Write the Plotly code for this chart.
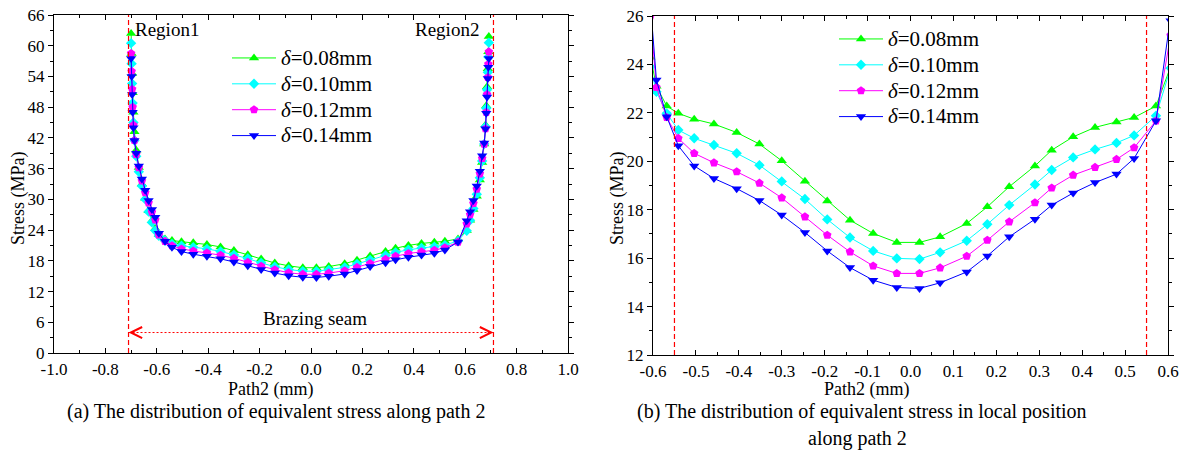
import plotly.graph_objects as go

# Node positions along path 2 (mm)
path_x = [-0.700, -0.698, -0.696, -0.694, -0.691, -0.687, -0.680, -0.670, -0.658, -0.645, -0.632, -0.619, -0.606,
          -0.592, -0.568, -0.541, -0.504, -0.458, -0.405, -0.352, -0.300, -0.246, -0.194, -0.141, -0.087, -0.032,
          0.021, 0.069, 0.131, 0.179, 0.230, 0.290, 0.329, 0.379, 0.430, 0.480, 0.521, 0.572,
          0.606, 0.619, 0.632, 0.645, 0.657, 0.666, 0.674, 0.679, 0.682, 0.685, 0.688, 0.690, 0.692]

# Equivalent stress (MPa) for each seam thickness
stress_008 = [62.4, 58.5, 54.6, 50.8, 47.0, 43.2, 39.6, 36.2, 33.0, 30.2, 27.8, 25.8, 24.3,
              23.1, 22.28, 21.98, 21.74, 21.54, 21.19, 20.71, 20.02, 19.18, 18.36, 17.57, 17.02, 16.65,
              16.65, 16.88, 17.43, 18.12, 18.95, 19.81, 20.46, 21.01, 21.40, 21.62, 21.81, 22.28,
              23.9, 25.9, 28.0, 30.6, 33.8, 37.2, 40.8, 44.5, 48.3, 52.0, 55.5, 58.8, 61.8]
stress_010 = [60.5, 56.5, 52.6, 48.8, 45.0, 41.5, 38.4, 35.4, 32.6, 30.0, 27.6, 25.5, 23.9,
              22.87, 21.98, 21.29, 20.95, 20.67, 20.33, 19.84, 19.17, 18.44, 17.60, 16.85, 16.30, 15.99,
              15.96, 16.24, 16.72, 17.40, 18.19, 19.04, 19.64, 20.16, 20.49, 20.76, 21.07, 21.88,
              23.85, 25.9, 28.2, 31.0, 34.2, 37.5, 40.8, 44.2, 47.8, 51.4, 54.8, 57.8, 60.6]
stress_012 = [58.5, 55.0, 51.5, 48.0, 44.5, 41.5, 38.8, 36.2, 33.6, 31.3, 29.3, 27.5, 26.0,
              23.05, 21.81, 20.95, 20.33, 19.94, 19.57, 19.10, 18.49, 17.71, 16.95, 16.26, 15.68, 15.37,
              15.37, 15.60, 16.08, 16.74, 17.50, 18.29, 18.90, 19.43, 19.75, 20.08, 20.56, 21.67,
              25.2, 27.0, 29.2, 32.0, 35.0, 38.0, 40.8, 43.8, 47.0, 50.5, 53.8, 56.4, 58.8]
stress_014 = [57.5, 54.0, 50.5, 47.0, 44.0, 41.5, 39.0, 36.5, 34.0, 31.8, 29.8, 28.0, 26.5,
              23.36, 21.84, 20.64, 19.81, 19.29, 18.87, 18.38, 17.78, 17.06, 16.30, 15.61, 15.09, 14.79,
              14.75, 14.98, 15.43, 16.09, 16.88, 17.61, 18.19, 18.69, 19.12, 19.47, 20.12, 21.67,
              25.8, 27.6, 29.8, 32.6, 35.5, 38.5, 41.0, 43.8, 46.8, 50.0, 53.6, 55.8, 57.5]

series_names = ["<i>δ</i>=0.08mm", "<i>δ</i>=0.10mm", "<i>δ</i>=0.12mm", "<i>δ</i>=0.14mm"]

# Seam boundaries (mm)
seam_edges_full = [-0.71, 0.71]
seam_edges_local = [-0.55, 0.55]

# Tick labels
xa_vals = [-1.0, -0.8, -0.6, -0.4, -0.2, 0.0, 0.2, 0.4, 0.6, 0.8, 1.0]
xa_text = ["-1.0", "-0.8", "-0.6", "-0.4", "-0.2", "0.0", "0.2", "0.4", "0.6", "0.8", "1.0"]
ya_vals = [0, 6, 12, 18, 24, 30, 36, 42, 48, 54, 60, 66]
ya_text = [str(v) for v in ya_vals]
xb_vals = [-0.6, -0.5, -0.4, -0.3, -0.2, -0.1, 0.0, 0.1, 0.2, 0.3, 0.4, 0.5, 0.6]
xb_text = ["-0.6", "-0.5", "-0.4", "-0.3", "-0.2", "-0.1", "0.0", "0.1", "0.2", "0.3", "0.4", "0.5", "0.6"]
yb_vals = [12, 14, 16, 18, 20, 22, 24, 26]
yb_text = [str(v) for v in yb_vals]

W, H = 1184, 462
FONT = "Liberation Serif"
colors = ["#00FF00", "#00FFFF", "#FF00FF", "#0000FF"]
symbols = ["triangle-up", "diamond", "pentagon", "triangle-down"]
msizes = [9, 8, 9, 9]
stresses = [stress_008, stress_010, stress_012, stress_014]


def px_x(p):
    return p / W


def px_y(p):
    return 1 - p / H


fig = go.Figure()

for i in range(4):
    legend_label = '<span style="font-size:21px">' + series_names[i] + "</span>"
    for xa, ya, leg in (("x", "y", "legend"), ("x2", "y2", "legend2")):
        fig.add_trace(go.Scatter(
            x=path_x, y=stresses[i], xaxis=xa, yaxis=ya,
            mode="lines+markers", name=legend_label,
            line=dict(color=colors[i], width=1),
            marker=dict(symbol=symbols[i], size=msizes[i], color=colors[i], line=dict(width=0)),
            legend=leg, legendgroup=leg, showlegend=True,
        ))

axis_common = dict(showline=True, linecolor="black", linewidth=1.3, mirror="ticks",
                   showgrid=False, zeroline=False, tickcolor="black", tickwidth=1.2,
                   tickfont=dict(family=FONT, size=17, color="black"), ticklen=5,
                   tickmode="array", automargin=False)

legend_common = dict(xanchor="left", yanchor="top", font=dict(family=FONT, size=17.6, color="black"),
                     bgcolor="rgba(0,0,0,0)", itemwidth=44)

fig.update_layout(
    width=W, height=H, margin=dict(l=0, r=0, t=0, b=0, autoexpand=False),
    paper_bgcolor="white", plot_bgcolor="white",
    xaxis=dict(axis_common, domain=[px_x(54), px_x(568)], range=[-1, 1], anchor="y",
               tickvals=xa_vals, ticktext=xa_text, ticks="inside",
               minor=dict(dtick=0.1, ticks="inside", ticklen=3, tickcolor="black")),
    yaxis=dict(axis_common, domain=[px_y(353), px_y(15)], range=[0, 66], anchor="x",
               tickvals=ya_vals, ticktext=ya_text, ticks="outside",
               minor=dict(dtick=3, ticks="outside", ticklen=3, tickcolor="black")),
    xaxis2=dict(axis_common, domain=[px_x(653), px_x(1168)], range=[-0.6, 0.6], anchor="y2",
                tickvals=xb_vals, ticktext=xb_text, ticks="inside",
                minor=dict(dtick=0.05, ticks="inside", ticklen=3, tickcolor="black")),
    yaxis2=dict(axis_common, domain=[px_y(355), px_y(16)], range=[12, 26], anchor="x2",
                tickvals=yb_vals, ticktext=yb_text, ticks="outside",
                minor=dict(dtick=1, ticks="outside", ticklen=3, tickcolor="black")),
    legend=dict(legend_common, x=px_x(227), y=px_y(40)),
    legend2=dict(legend_common, x=px_x(834), y=px_y(21)),
)

shapes = []
for xv in seam_edges_full:
    shapes.append(dict(type="line", xref="x", yref="y domain", x0=xv, x1=xv, y0=0, y1=1,
                       line=dict(color="#FF0000", width=1.2, dash="5px,3px")))
for xv in seam_edges_local:
    shapes.append(dict(type="line", xref="x2", yref="y2 domain", x0=xv, x1=xv, y0=0, y1=1,
                       line=dict(color="#FF0000", width=1.2, dash="5px,3px")))
# dotted span of the brazing seam
shapes.append(dict(type="line", xref="x", yref="y", x0=seam_edges_full[0], x1=seam_edges_full[1],
                   y0=4, y1=4, line=dict(color="#FF0000", width=1, dash="2px,2px")))
fig.update_layout(shapes=shapes)

ann = []
# arrow heads at both ends of the seam span
for xv, off in ((seam_edges_full[0], 7), (seam_edges_full[1], -7)):
    ann.append(dict(x=xv, y=4, xref="x", yref="y", ax=off, ay=0, text="", showarrow=True,
                    arrowhead=5, arrowsize=2.2, arrowwidth=1, arrowcolor="#FF0000", standoff=0))


def label(x, y, text, font, xref="paper", yref="paper", angle=0):
    return dict(x=x, y=y, xref=xref, yref=yref, text=text, showarrow=False, font=font,
                xanchor="center", yanchor="middle", textangle=angle)


txt_font = dict(family=FONT, size=19, color="black")
ann.append(label(-0.562, 63.1, "Region1", txt_font, "x", "y"))
ann.append(label(0.529, 63.1, "Region2", txt_font, "x", "y"))
ann.append(label(0.017, 6.8, "Brazing seam", txt_font, "x", "y"))

title_font = dict(family=FONT, size=18, color="black")
ann.append(label(px_x(18), px_y(198), "Stress (MPa)", title_font, angle=-90))
ann.append(label(px_x(617), px_y(198), "Stress (MPa)", title_font, angle=-90))
ann.append(label(px_x(271), px_y(389), "Path2 (mm)", title_font))
ann.append(label(px_x(867), px_y(389), "Path2 (mm)", title_font))

cap_font = dict(family=FONT, size=20, color="black")
ann.append(label(px_x(276), px_y(411), "(a) The distribution of equivalent stress along path 2", cap_font))
ann.append(label(px_x(862), px_y(411), "(b) The distribution of equivalent stress in local position", cap_font))
ann.append(label(px_x(857), px_y(438), "along path 2", cap_font))
fig.update_layout(annotations=ann)

fig.write_html("out.html")
